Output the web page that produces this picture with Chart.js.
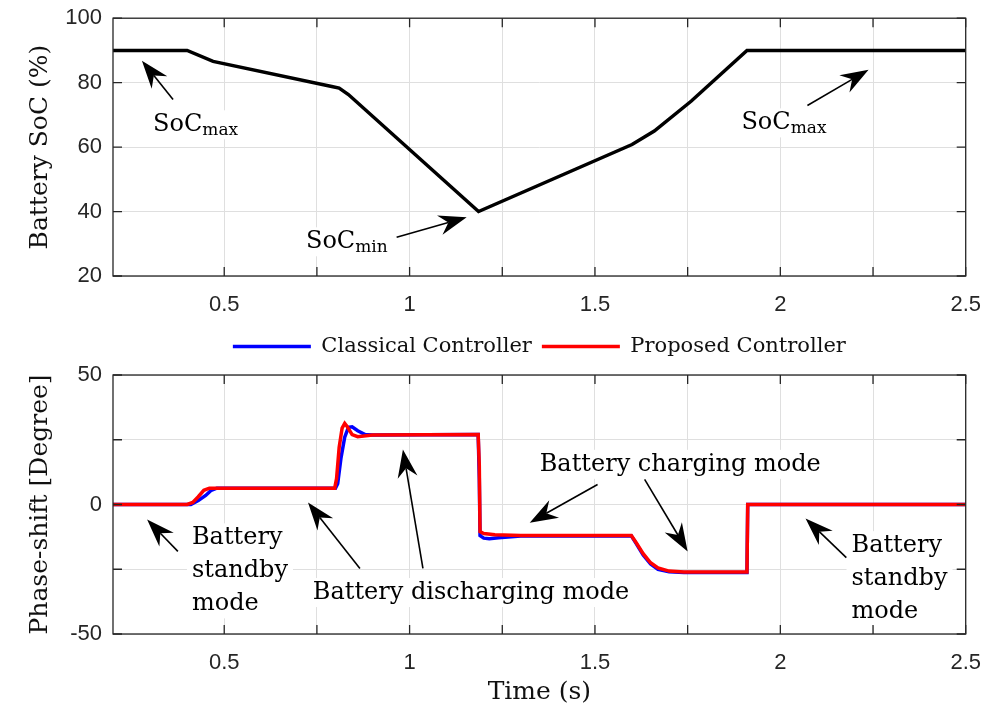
<!DOCTYPE html>
<html>
<head>
<meta charset="utf-8">
<script src="https://cdn.jsdelivr.net/npm/chart.js@4.4.1/dist/chart.umd.min.js"></script>
<style>
  body { margin: 0; background: #ffffff; overflow: hidden; }
  #wrap { position: relative; width: 992px; height: 713px; overflow: hidden; }
  /* canvases run a little past the page: Chart.js keeps room for the "100" and "2.5" labels */
  #soc-box { position: absolute; left: 0; top: -6px; width: 997px; height: 332px; }
  #phase-box { position: absolute; left: 0; top: 326px; width: 997px; height: 387px; }
</style>
</head>
<body>
<div id="wrap">
  <div id="soc-box"><canvas id="soc"></canvas></div>
  <div id="phase-box"><canvas id="phase"></canvas></div>
</div>
<script>
// values
const socTime = [0.2, 0.4, 0.47, 0.79, 0.81, 0.835, 1.186, 1.6, 1.66, 1.76, 1.91, 2.5];
const socValues = [90, 90, 86.6, 78.8, 78.3, 76.3, 40, 60.8, 65, 74.3, 90, 90];

const classicalTime = [0.2, 0.41, 0.43, 0.45, 0.465, 0.48, 0.8, 0.806, 0.815, 0.825, 0.835, 0.845, 0.86, 0.88, 0.9,
  1.185, 1.188, 1.19, 1.2, 1.215, 1.24, 1.3, 1.598, 1.61, 1.63, 1.65, 1.67, 1.7, 1.74, 1.91, 1.912, 2.5];
const classicalPhase = [0, 0, 1.5, 3.5, 5.5, 6.3, 6.3, 8, 18, 26, 29.8, 30, 28.5, 27, 26.8,
  27, 10, -12, -13, -13.2, -12.8, -12.2, -12.1, -14.8, -19.5, -23, -25, -26, -26.3, -26.3, 0, 0];

const proposedTime = [0.2, 0.4, 0.415, 0.43, 0.445, 0.46, 0.5, 0.798, 0.803, 0.81, 0.818, 0.825, 0.832, 0.845, 0.86, 0.9,
  1.185, 1.188, 1.19, 1.2, 1.23, 1.3, 1.598, 1.61, 1.63, 1.65, 1.67, 1.7, 1.74, 1.91, 1.912, 2.5];
const proposedPhase = [0, 0, 0.8, 3, 5.5, 6.3, 6.3, 6.3, 10, 22, 29.5, 31.3, 30, 27, 26.2, 26.8,
  27, 15, -10.5, -11.2, -11.7, -12, -12, -14.5, -19, -22.5, -24.5, -25.7, -26.1, -26.1, 0, 0];

const timeTicks = [0.5, 0.75, 1, 1.25, 1.5, 1.75, 2, 2.25, 2.5];
const timeTickLabels = ['0.5', '', '1', '', '1.5', '', '2', '', '2.5'];
const socTicks = [20, 40, 60, 80, 100];
const phaseTicks = [-50, -25, 0, 25, 50];
const phaseTickLabels = ['-50', '', '0', '', '50'];

const seriesNames = ['Classical Controller', 'Proposed Controller'];
const seriesColors = ['#0000ff', '#ff0000'];

// text arrows, placed in data units
const socNotes = [
  { lines: [['SoC', 'max']], x: 0.308, y: 64.9, align: 'left', arrows: [[0.362, 74.8, 0.278, 86.8]] },
  { lines: [['SoC', 'min']], x: 0.941, y: 28.6, align: 'right', arrows: [[0.965, 32, 1.154, 38.2]] },
  { lines: [['SoC', 'max']], x: 1.895, y: 65.5, align: 'left', arrows: [[2.073, 72.9, 2.238, 84]] }
];
const phaseNotes = [
  { lines: [['Battery'], ['standby'], ['mode']], x: 0.413, y: -15.4, align: 'left', arrows: [[0.375, -18.1, 0.292, -5.8]] },
  { lines: [['Battery discharging mode']], x: 0.739, y: -36.5, align: 'left',
    arrows: [[0.866, -24.7, 0.726, 0.8], [1.036, -24.7, 0.982, 21.2]] },
  { lines: [['Battery charging mode']], x: 1.351, y: 13, align: 'left',
    arrows: [[1.507, 7.7, 1.324, -7], [1.634, 9.7, 1.75, -18.1]] },
  { lines: [['Battery'], ['standby'], ['mode']], x: 2.192, y: -18.4, align: 'left', arrows: [[2.178, -20.5, 2.068, -5.4]] }
];

const AXIS_COLOR = '#262626';
const GRID_COLOR = '#dfdfdf';
const TICK_FONT = { family: 'Liberation Sans', size: 22 };
const LABEL_FONT = { family: 'DejaVu Serif', size: 25 };
const NOTE_FONT = '24px "DejaVu Serif"';
const SUB_FONT = '17px "DejaVu Serif"';
const LINE_GAP = 33;

function toPoints(xs, ys)
{
  return xs.map((x, i) => ({ x: x, y: ys[i] }));
}

function labelFor(values, labels)
{
  return (v) => {
    let i = values.indexOf(v);
    return i < 0 ? '' : labels[i];
  };
}

function drawArrow(ctx, x0, y0, x1, y1)
{
  let len = Math.hypot(x1 - x0, y1 - y0);
  let ux = (x1 - x0) / len, uy = (y1 - y0) / len;
  let hl = 28, hw = 10, back = 0.68;

  ctx.beginPath();
  ctx.moveTo(x0, y0);
  ctx.lineTo(x1 - ux * hl * back, y1 - uy * hl * back);
  ctx.stroke();

  ctx.beginPath();
  ctx.moveTo(x1, y1);
  ctx.lineTo(x1 - ux * hl - uy * hw, y1 - uy * hl + ux * hw);
  ctx.lineTo(x1 - ux * hl * back, y1 - uy * hl * back);
  ctx.lineTo(x1 - ux * hl + uy * hw, y1 - uy * hl - ux * hw);
  ctx.closePath();
  ctx.fill();
}

function lineWidth(ctx, parts)
{
  ctx.font = NOTE_FONT;
  let w = ctx.measureText(parts[0]).width;
  if (parts[1])
  {
    ctx.font = SUB_FONT;
    w += ctx.measureText(parts[1]).width;
  }
  return w;
}

// box around a note, in pixels
function noteBox(chart, note)
{
  let ctx = chart.ctx;
  let xs = chart.scales.x, ys = chart.scales.y;
  let w = Math.max(...note.lines.map(l => lineWidth(ctx, l)));
  let px = xs.getPixelForValue(note.x);
  let left = note.align === 'left' ? px : note.align === 'right' ? px - w : px - w / 2;
  let base = ys.getPixelForValue(note.y);
  return { left: left, base: base, width: w, top: base - 21, bottom: base + (note.lines.length - 1) * LINE_GAP + 8 };
}

function notesPlugin(notes, xTicks, yTicks)
{
  return {
    id: 'notes',
    beforeDatasetsDraw(chart)
    {
      let ctx = chart.ctx;
      ctx.save();
      ctx.fillStyle = '#ffffff';
      notes.forEach(n => {
        let b = noteBox(chart, n);
        ctx.fillRect(b.left - 5, b.top, b.width + 10, b.bottom - b.top);
      });
      ctx.restore();
    },
    afterDraw(chart)
    {
      let ctx = chart.ctx;
      let a = chart.chartArea;
      let xs = chart.scales.x, ys = chart.scales.y;
      ctx.save();

      // box and inward tick marks, MATLAB style
      ctx.strokeStyle = AXIS_COLOR;
      ctx.lineWidth = 1.3;
      ctx.strokeRect(a.left, a.top, a.right - a.left, a.bottom - a.top);
      ctx.beginPath();
      xTicks.forEach(v => {
        let p = xs.getPixelForValue(v);
        ctx.moveTo(p, a.bottom); ctx.lineTo(p, a.bottom - 9);
        ctx.moveTo(p, a.top); ctx.lineTo(p, a.top + 9);
      });
      yTicks.forEach(v => {
        let p = ys.getPixelForValue(v);
        ctx.moveTo(a.left, p); ctx.lineTo(a.left + 9, p);
        ctx.moveTo(a.right, p); ctx.lineTo(a.right - 9, p);
      });
      ctx.stroke();

      // arrows and their texts
      ctx.strokeStyle = '#000000';
      ctx.fillStyle = '#000000';
      ctx.lineWidth = 1.6;
      notes.forEach(n => {
        n.arrows.forEach(r => drawArrow(ctx, xs.getPixelForValue(r[0]), ys.getPixelForValue(r[1]),
          xs.getPixelForValue(r[2]), ys.getPixelForValue(r[3])));

        let b = noteBox(chart, n);
        ctx.textBaseline = 'alphabetic';
        ctx.textAlign = 'left';
        n.lines.forEach((parts, i) => {
          let w = lineWidth(ctx, parts);
          let x = n.align === 'left' ? b.left : b.left + (b.width - w) / 2;
          if (n.align === 'right') x = b.left + b.width - w;
          let y = b.base + i * LINE_GAP;
          ctx.font = NOTE_FONT;
          ctx.fillText(parts[0], x, y);
          if (parts[1])
          {
            let mw = ctx.measureText(parts[0]).width;
            ctx.font = SUB_FONT;
            ctx.fillText(parts[1], x + mw, y + 4);
          }
        });
      });
      ctx.restore();
    }
  };
}

function timeAxis(height, title)
{
  return {
    type: 'linear',
    min: 0.2,
    max: 2.5,
    afterBuildTicks: s => { s.ticks = timeTicks.map(v => ({ value: v })); },
    afterFit: s => { s.height = height; },
    grid: { color: GRID_COLOR, lineWidth: 1, drawTicks: false },
    border: { display: false },
    ticks: {
      autoSkip: false, maxRotation: 0, padding: 16,
      color: AXIS_COLOR, font: TICK_FONT,
      callback: labelFor(timeTicks, timeTickLabels)
    },
    title: {
      display: !!title, text: title || '', color: '#111111', font: LABEL_FONT,
      padding: { top: 0, bottom: 6 }
    }
  };
}

function valueAxis(min, max, values, labels, title)
{
  return {
    type: 'linear',
    min: min,
    max: max,
    afterBuildTicks: s => { s.ticks = values.map(v => ({ value: v })); },
    afterFit: s => { s.width = 113; },
    grid: { color: GRID_COLOR, lineWidth: 1, drawTicks: false },
    border: { display: false },
    ticks: { padding: 11, color: AXIS_COLOR, font: TICK_FONT, callback: labelFor(values, labels) },
    title: { display: true, text: title, color: '#111111', font: LABEL_FONT, padding: { top: 25, bottom: 0 } }
  };
}

Chart.defaults.animation = false;
Chart.defaults.devicePixelRatio = 1;

let socChart = new Chart(document.getElementById('soc'), {
  type: 'line',
  data: {
    datasets: [{
      label: 'SoC',
      data: toPoints(socTime, socValues),
      borderColor: '#000000',
      borderWidth: 3.5,
      pointRadius: 0,
      tension: 0
    }]
  },
  options: {
    responsive: true,
    maintainAspectRatio: false,
    layout: { padding: { left: 0, right: 26, top: 16, bottom: 0 } },
    plugins: { legend: { display: false }, tooltip: { enabled: false } },
    scales: {
      x: timeAxis(50, ''),
      y: valueAxis(20, 100, socTicks, socTicks.map(String), 'Battery SoC (%)')
    }
  },
  plugins: [notesPlugin(socNotes, timeTicks, socTicks)]
});

let phaseChart = new Chart(document.getElementById('phase'), {
  type: 'line',
  data: {
    datasets: [
      {
        label: seriesNames[0],
        data: toPoints(classicalTime, classicalPhase),
        xAxisID: 'x',
        yAxisID: 'y',
        borderColor: seriesColors[0],
        backgroundColor: seriesColors[0],
        borderWidth: 3.5,
        pointRadius: 0,
        tension: 0,
        order: 1
      },
      {
        label: seriesNames[1],
        data: toPoints(proposedTime, proposedPhase),
        xAxisID: 'x',
        yAxisID: 'y',
        borderColor: seriesColors[1],
        backgroundColor: seriesColors[1],
        borderWidth: 3.5,
        pointRadius: 0,
        tension: 0,
        order: 0
      }
    ]
  },
  options: {
    responsive: true,
    maintainAspectRatio: false,
    layout: { padding: { left: 0, right: 26, top: 0, bottom: 0 } },
    plugins: {
      tooltip: { enabled: false },
      legend: {
        position: 'top',
        fullSize: false,
        labels: {
          usePointStyle: true,
          pointStyle: 'line',
          pointStyleWidth: 78,
          padding: 10,
          color: '#111111',
          font: { family: 'DejaVu Serif', size: 21 },
          sort: (a, b) => a.datasetIndex - b.datasetIndex
        }
      }
    },
    scales: {
      // empty spacer between the legend and the plot
      gap: {
        type: 'linear', axis: 'x', position: 'top', display: true,
        grid: { display: false }, border: { display: false }, ticks: { display: false },
        afterFit: s => { s.height = 8; }
      },
      x: timeAxis(79, 'Time (s)'),
      y: valueAxis(-50, 50, phaseTicks, phaseTickLabels, 'Phase-shift [Degree]')
    }
  },
  plugins: [notesPlugin(phaseNotes, timeTicks, phaseTicks)]
});
</script>
</body>
</html>
